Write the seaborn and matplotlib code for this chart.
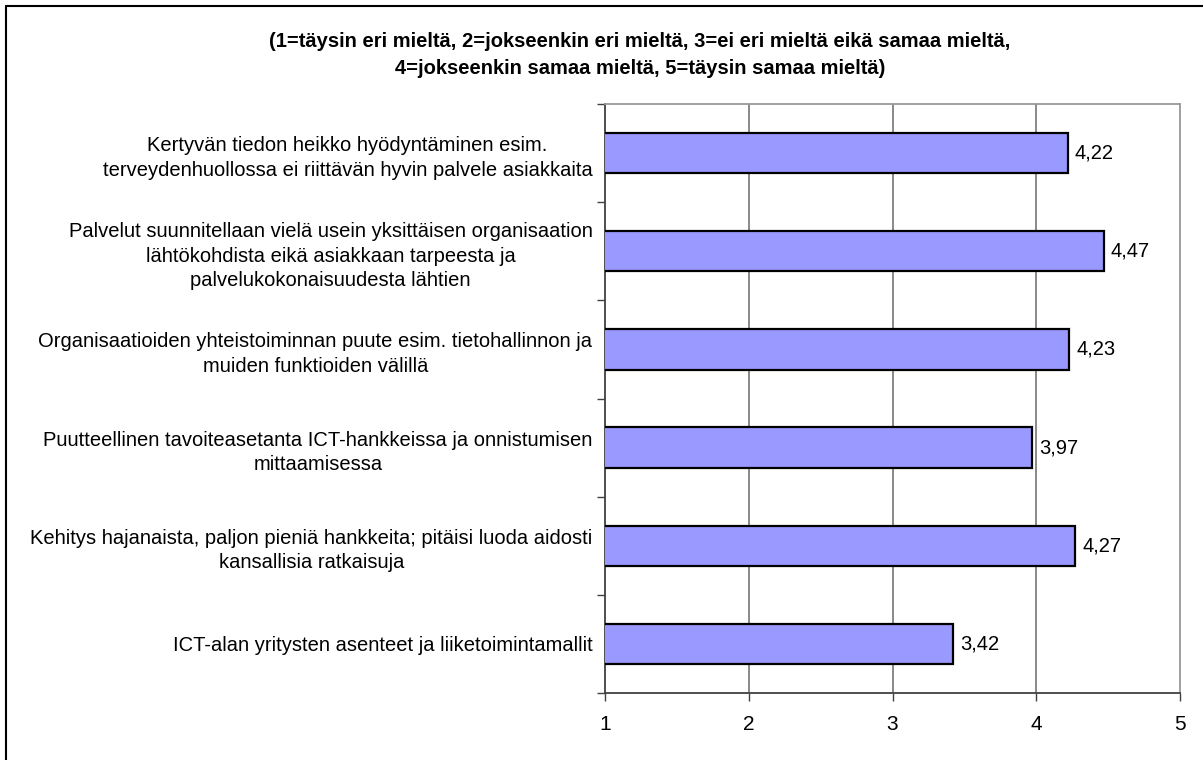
import matplotlib
matplotlib.use("Agg")
import matplotlib.pyplot as plt
import seaborn as sns
import pandas as pd
from matplotlib.lines import Line2D

categories = [
    "Kertyvän tiedon heikko hyödyntäminen esim.\nterveydenhuollossa ei riittävän hyvin palvele asiakkaita",
    "Palvelut suunnitellaan vielä usein yksittäisen organisaation\nlähtökohdista eikä asiakkaan tarpeesta ja\npalvelukokonaisuudesta lähtien",
    "Organisaatioiden yhteistoiminnan puute esim. tietohallinnon ja\nmuiden funktioiden välillä",
    "Puutteellinen tavoiteasetanta ICT-hankkeissa ja onnistumisen\nmittaamisessa",
    "Kehitys hajanaista, paljon pieniä hankkeita; pitäisi luoda aidosti\nkansallisia ratkaisuja",
    "ICT-alan yritysten asenteet ja liiketoimintamallit",
]
values = [4.22, 4.47, 4.23, 3.97, 4.27, 3.42]
value_labels = ["4,22", "4,47", "4,23", "3,97", "4,27", "3,42"]
x_ticks = [1, 2, 3, 4, 5]
title = ("(1=täysin eri mieltä, 2=jokseenkin eri mieltä, 3=ei eri mieltä eikä samaa mieltä,\n"
         "4=jokseenkin samaa mieltä, 5=täysin samaa mieltä)")

sns.set_theme(style="white")
plt.rcParams['font.family'] = ['Liberation Sans', 'DejaVu Sans']

fig = plt.figure(figsize=(12.03, 7.60), dpi=100)
ax = fig.add_axes([605/1203, 1 - 693/760, (1180 - 605)/1203, (693 - 104)/760])

df = pd.DataFrame({"cat": categories, "val": values})
sns.barplot(data=df, y="cat", x="val", orient="h", ax=ax, color="#9999FF",
            saturation=1, width=0.41, edgecolor="black", linewidth=1.6, zorder=3)

ax.set_xlim(1, 5)
ax.set_ylim(len(categories) - 0.5, -0.5)
ax.set_xticks(x_ticks)
ax.set_xticklabels([str(t) for t in x_ticks], fontsize=15, color="black")
ax.set_xlabel("")
ax.set_ylabel("")

ax.set_yticks(range(len(categories)))
ax.set_yticklabels(categories, fontsize=14.5, linespacing=1.38, color="black",
                   ha="right", multialignment="center")
ax.tick_params(axis="y", length=0, pad=9)

ax.set_yticks([i - 0.5 for i in range(len(categories) + 1)], minor=True)
ax.tick_params(axis="y", which="minor", length=6, width=1, color="#404040", direction="out", left=True)
ax.tick_params(axis="x", length=6, width=1, color="#404040", direction="out", bottom=True, pad=10)

ax.grid(False)
for x in [2, 3, 4]:
    ax.axvline(x, color="#808080", linewidth=1.3, zorder=1)

for side in ["left", "bottom"]:
    ax.spines[side].set_color("#404040")
    ax.spines[side].set_linewidth(1.3)
for side in ["top", "right"]:
    ax.spines[side].set_visible(True)
    ax.spines[side].set_color("#999999")
    ax.spines[side].set_linewidth(1.3)

for i, (v, s) in enumerate(zip(values, value_labels)):
    ax.annotate(s, xy=(v, i), xytext=(5, 0), textcoords="offset points",
                va="center", ha="left", fontsize=14.5, color="black")

fig.text(640/1203, 1 - 55/760, title, ha="center", va="center", fontsize=14.5,
         fontweight="bold", linespacing=1.5, color="black")

# figure border (left and top visible)
fig.add_artist(Line2D([6/1203, 6/1203], [0, 1 - 6/760], color="black", linewidth=1.5,
                      transform=fig.transFigure))
fig.add_artist(Line2D([6/1203, 1], [1 - 6/760, 1 - 6/760], color="black", linewidth=1.5,
                      transform=fig.transFigure))

fig.savefig("out.png", dpi=100)
